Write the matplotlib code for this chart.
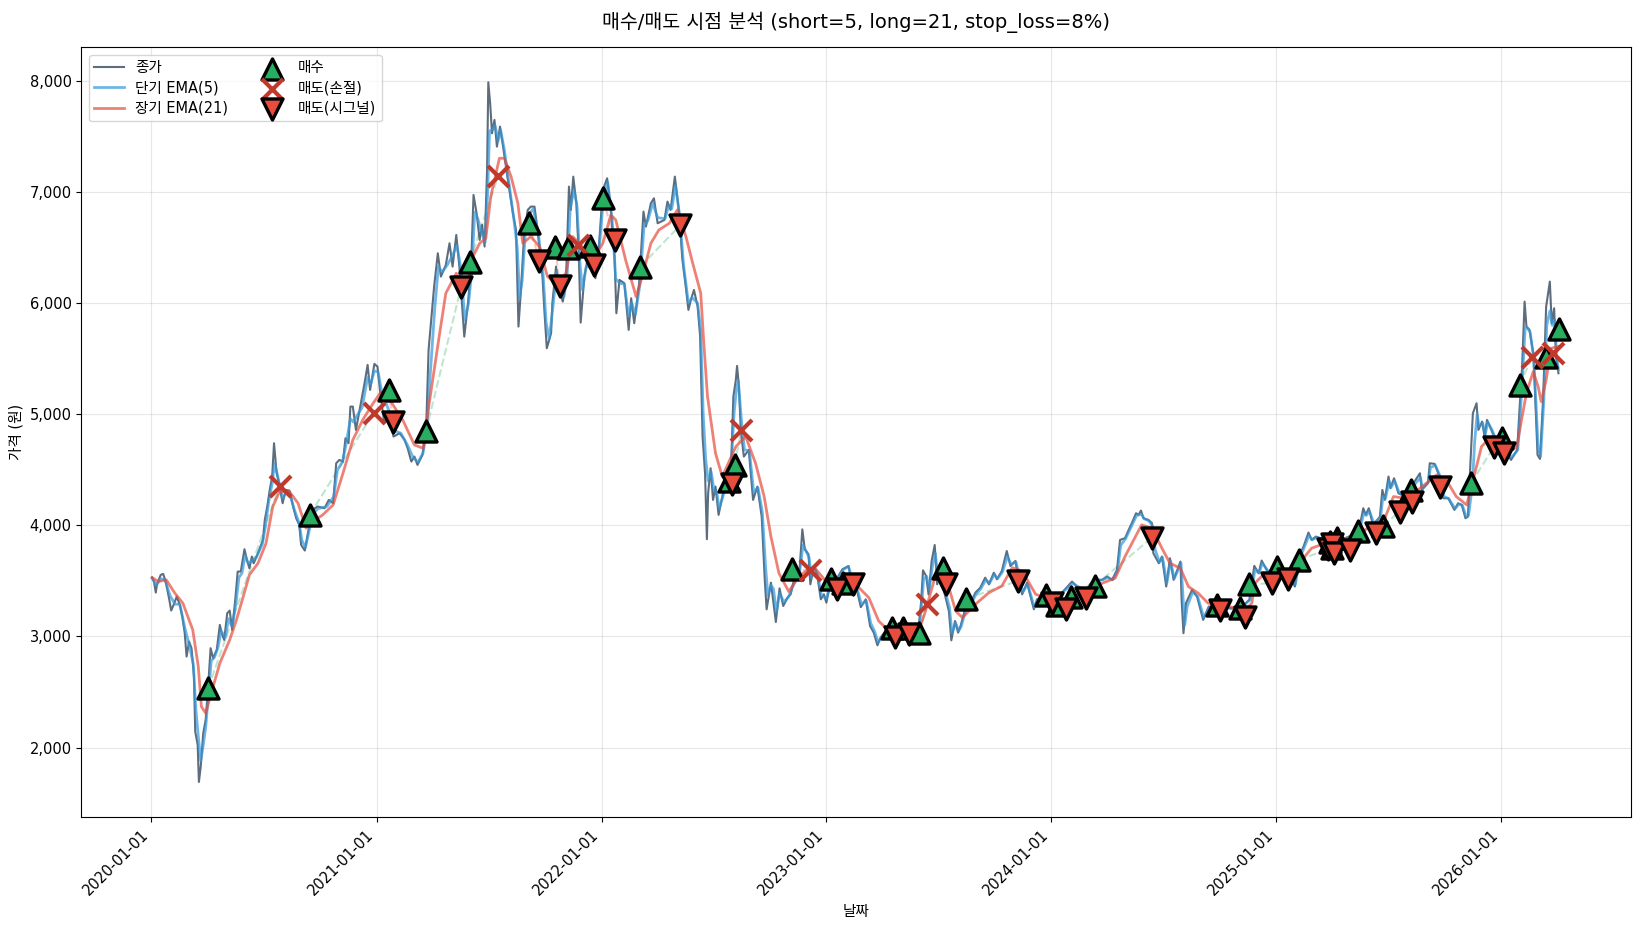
import matplotlib
matplotlib.use('Agg')
import numpy as np
import pandas as pd
import matplotlib.pyplot as plt
import matplotlib.dates as mdates
from matplotlib.ticker import FuncFormatter

plt.rcParams['font.family'] = ['DejaVu Sans', 'Noto Sans CJK KR']
plt.rcParams['axes.unicode_minus'] = False

START = pd.Timestamp('2020-01-01')

# all x values are days since START
close_days = [
    1, 4, 7, 9, 15, 19, 23, 29, 32, 37,
    41, 46, 50, 54, 57, 61, 65, 69, 71, 75,
    77, 80, 84, 88, 92, 96, 100, 106, 111, 114,
    118, 123, 127, 131, 136, 140, 145, 151, 155, 159,
    163, 166, 173, 181, 184, 188, 192, 196, 199, 203,
    207, 213, 218, 224, 230, 235, 240, 243, 249, 254,
    259, 265, 270, 281, 288, 295, 300, 305, 311, 315,
    320, 323, 327, 332, 338, 346, 351, 355, 362, 367,
    371, 378, 385, 393, 403, 411, 416, 422, 427, 432,
    440, 446, 450, 459, 465, 470, 478, 484, 489, 495,
    500, 508, 514, 519, 523, 528, 533, 537, 541, 545,
    547, 550, 553, 557, 561, 566, 571, 578, 587, 592,
    596, 600, 605, 611, 616, 622, 627, 635, 638, 642,
    649, 651, 657, 662, 668, 673, 678, 681, 685, 690,
    694, 697, 703, 708, 715, 721, 727, 733, 740, 746,
    752, 755, 760, 768, 775, 779, 784, 792, 799, 803,
    811, 816, 822, 833, 838, 843, 850, 857, 862, 868,
    872, 876, 881, 887, 891, 895, 899, 902, 904, 908,
    912, 916, 921, 927, 934, 941, 945, 949, 951, 954,
    957, 962, 970, 977, 984, 991, 996, 999, 1006, 1014,
    1020, 1026, 1033, 1038, 1043, 1052, 1057, 1061, 1067, 1070,
    1076, 1081, 1087, 1092, 1096, 1103, 1114, 1122, 1132, 1138,
    1146, 1152, 1160, 1167, 1173, 1179, 1184, 1192, 1203, 1219,
    1236, 1246, 1250, 1253, 1258, 1262, 1267, 1272, 1276, 1281,
    1287, 1295, 1299, 1305, 1310, 1314, 1322, 1330, 1338, 1346,
    1354, 1360, 1368, 1373, 1381, 1389, 1395, 1403, 1408, 1414,
    1422, 1433, 1438, 1452, 1462, 1473, 1495, 1503, 1517, 1530,
    1544, 1552, 1560, 1568, 1573, 1581, 1587, 1592, 1599, 1603,
    1607, 1611, 1619, 1625, 1627, 1636, 1641, 1648, 1654, 1660,
    1671, 1673, 1676, 1680, 1690, 1698, 1708, 1717, 1733, 1754,
    1771, 1783, 1787, 1791, 1798, 1803, 1811, 1819, 1830, 1846,
    1857, 1863, 1871, 1879, 1884, 1891, 1906, 1922, 1938, 1960,
    1968, 1972, 1977, 1984, 1995, 1999, 2003, 2009, 2012, 2018,
    2025, 2036, 2046, 2060, 2063, 2073, 2076, 2084, 2092, 2098,
    2106, 2116, 2122, 2128, 2134, 2138, 2142, 2146, 2152, 2155,
    2161, 2165, 2169, 2176, 2187, 2198, 2208, 2218, 2222, 2226,
    2230, 2233, 2238, 2244, 2247, 2251, 2255, 2260, 2265, 2271,
    2274, 2278, 2281, 2285,
]
close_prices = [
    3530, 3494, 3395, 3473, 3554, 3563, 3494, 3329, 3233, 3299,
    3359, 3284, 3179, 3029, 2819, 2954, 2894, 2639, 2144, 2024,
    1690, 1829, 2129, 2249, 2549, 2894, 2804, 2879, 3104, 3029,
    2969, 3209, 3233, 3059, 3329, 3584, 3584, 3785, 3689, 3614,
    3719, 3659, 3749, 3869, 4049, 4169, 4319, 4439, 4739, 4484,
    4379, 4199, 4319, 4313, 4169, 4064, 4004, 3824, 3773, 3929,
    4079, 4154, 4169, 4154, 4229, 4199, 4559, 4589, 4574, 4784,
    4739, 5069, 5069, 4859, 5039, 5279, 5444, 5219, 5453, 5429,
    5219, 4919, 5009, 4799, 4829, 4769, 4694, 4574, 4619, 4544,
    4634, 4859, 5579, 6149, 6449, 6239, 6344, 6539, 6329, 6614,
    6329, 5699, 5999, 6329, 6974, 6809, 6569, 6704, 6509, 7199,
    7988, 7799, 7529, 7649, 7409, 7589, 7409, 7139, 6809, 6659,
    5789, 6119, 6599, 6839, 6869, 6869, 6659, 6239, 5939, 5594,
    5729, 5999, 6329, 6119, 6014, 6179, 7049, 6839, 7139, 6899,
    6419, 5825, 6239, 6389, 6329, 6224, 6539, 7019, 7124, 6839,
    6419, 5909, 6209, 6179, 5759, 6044, 5819, 6179, 6824, 6689,
    6899, 6944, 6719, 6749, 6914, 6839, 7139, 6809, 6404, 6134,
    5939, 6029, 6119, 5969, 5699, 4799, 4469, 3875, 4289, 4514,
    4229, 4349, 4094, 4259, 4439, 4469, 5159, 5309, 5435, 5249,
    4859, 4619, 4679, 4229, 4349, 4079, 3509, 3244, 3484, 3130,
    3433, 3274, 3349, 3379, 3499, 3559, 3964, 3784, 3739, 3469,
    3634, 3559, 3334, 3379, 3304, 3499, 3529, 3604, 3634, 3469,
    3409, 3264, 3334, 3094, 3034, 2920, 2989, 3049, 3064, 3064,
    3034, 3079, 3319, 3595, 3544, 3379, 3679, 3823, 3469, 3589,
    3409, 3229, 2965, 3139, 3034, 3094, 3259, 3289, 3394, 3439,
    3529, 3469, 3574, 3514, 3589, 3769, 3634, 3679, 3529, 3379,
    3484, 3244, 3334, 3364, 3349, 3359, 3494, 3449, 3419, 3509,
    3509, 3539, 3509, 3599, 3869, 3884, 3959, 4019, 4109, 4094,
    4133, 4064, 4049, 4019, 3749, 3659, 3719, 3449, 3704, 3509,
    3674, 3329, 3029, 3299, 3419, 3359, 3149, 3269, 3269, 3254,
    3269, 3329, 3479, 3635, 3569, 3683, 3599, 3539, 3629, 3569,
    3449, 3719, 3809, 3935, 3869, 3899, 3869, 3899, 3884, 3929,
    4154, 4094, 4154, 3999, 4079, 4319, 4229, 4439, 4334, 4424,
    4289, 4259, 4349, 4469, 4319, 4379, 4559, 4553, 4439, 4244,
    4244, 4139, 4199, 4184, 4064, 4079, 4559, 5009, 5099, 4859,
    4934, 4799, 4949, 4859, 4709, 4679, 4589, 4679, 5069, 5429,
    6014, 5789, 5759, 5549, 5189, 4634, 4598, 5129, 5969, 6194,
    5819, 5954, 5519, 5369,
]

short_days = [
    1, 8, 15, 22, 30, 38, 46, 54, 61, 68,
    72, 76, 80, 84, 88, 92, 97, 102, 108, 113,
    120, 125, 131, 137, 142, 147, 152, 157, 163, 170,
    180, 185, 190, 196, 200, 205, 213, 218, 224, 232,
    240, 244, 250, 256, 262, 270, 285, 296, 302, 310,
    316, 323, 328, 334, 342, 351, 356, 362, 368, 374,
    385, 395, 405, 416, 425, 433, 441, 447, 452, 460,
    466, 472, 480, 488, 496, 502, 509, 515, 520, 525,
    530, 536, 542, 546, 549, 553, 558, 563, 567, 573,
    580, 588, 594, 598, 602, 607, 613, 620, 628, 636,
    641, 646, 651, 658, 664, 670, 675, 680, 686, 691,
    696, 700, 706, 716, 722, 728, 734, 741, 748, 754,
    760, 768, 775, 780, 786, 793, 800, 806, 814, 822,
    834, 840, 845, 851, 858, 864, 872, 878, 887, 892,
    896, 900, 904, 909, 914, 918, 922, 928, 935, 941,
    946, 950, 953, 958, 963, 971, 978, 985, 992, 997,
    1001, 1006, 1010, 1015, 1020, 1027, 1034, 1044, 1052, 1058,
    1062, 1068, 1072, 1077, 1082, 1088, 1096, 1104, 1115, 1123,
    1132, 1139, 1147, 1153, 1161, 1168, 1174, 1180, 1186, 1193,
    1204, 1220, 1237, 1247, 1251, 1254, 1259, 1263, 1268, 1273,
    1277, 1282, 1288, 1296, 1300, 1306, 1311, 1315, 1323, 1331,
    1339, 1347, 1355, 1361, 1369, 1374, 1382, 1390, 1396, 1404,
    1409, 1415, 1423, 1434, 1439, 1453, 1463, 1473, 1496, 1504,
    1518, 1531, 1545, 1553, 1561, 1569, 1574, 1582, 1588, 1593,
    1600, 1608, 1612, 1620, 1626, 1630, 1637, 1642, 1649, 1655,
    1661, 1672, 1675, 1678, 1682, 1691, 1699, 1709, 1718, 1734,
    1755, 1772, 1784, 1788, 1792, 1799, 1804, 1812, 1820, 1831,
    1847, 1858, 1864, 1872, 1880, 1885, 1892, 1907, 1923, 1939,
    1961, 1969, 1973, 1978, 1985, 1996, 2000, 2004, 2010, 2013,
    2019, 2026, 2037, 2047, 2061, 2064, 2074, 2077, 2085, 2093,
    2099, 2107, 2117, 2123, 2129, 2135, 2139, 2145, 2149, 2153,
    2156, 2162, 2166, 2170, 2177, 2188, 2199, 2209, 2219, 2223,
    2227, 2231, 2234, 2239, 2245, 2248, 2252, 2256, 2261, 2266,
    2271, 2275, 2279, 2282, 2285,
]
short_prices = [
    3525, 3460, 3520, 3510, 3370, 3290, 3290, 3080, 2930, 2750,
    2350, 2100, 1880, 2020, 2180, 2450, 2780, 2810, 2900, 3050,
    2990, 3160, 3090, 3290, 3530, 3570, 3730, 3660, 3680, 3710,
    3830, 3990, 4200, 4380, 4560, 4440, 4240, 4290, 4300, 4140,
    4020, 3870, 3800, 3950, 4100, 4150, 4170, 4260, 4500, 4570,
    4730, 4960, 4930, 4990, 5060, 5330, 5270, 5390, 5380, 5200,
    5040, 4850, 4830, 4720, 4610, 4570, 4650, 4850, 5300, 5950,
    6330, 6280, 6340, 6420, 6520, 6330, 5850, 6000, 6280, 6820,
    6760, 6640, 6550, 7000, 7550, 7560, 7600, 7460, 7560, 7380,
    7100, 6780, 6500, 6050, 6200, 6620, 6800, 6850, 6640, 6260,
    5820, 5680, 5920, 6280, 6090, 6060, 6250, 6850, 7020, 6880,
    6350, 6120, 6330, 6320, 6260, 6550, 6950, 7090, 6760, 6220,
    6180, 6170, 5880, 6000, 5900, 6160, 6700, 6740, 6900, 6770,
    6760, 6880, 6850, 7060, 6780, 6350, 6000, 6050, 6000, 5750,
    5000, 4600, 4400, 4480, 4300, 4300, 4150, 4260, 4420, 4480,
    5000, 5230, 5300, 4950, 4680, 4670, 4300, 4340, 4120, 3650,
    3370, 3460, 3430, 3220, 3390, 3310, 3350, 3480, 3550, 3820,
    3780, 3710, 3530, 3620, 3550, 3370, 3340, 3480, 3530, 3600,
    3630, 3490, 3410, 3290, 3320, 3120, 3050, 2950, 2990, 3040,
    3060, 3060, 3040, 3090, 3300, 3520, 3540, 3420, 3620, 3750,
    3530, 3580, 3430, 3260, 3030, 3120, 3050, 3090, 3250, 3290,
    3380, 3430, 3510, 3480, 3560, 3520, 3580, 3720, 3650, 3670,
    3540, 3400, 3470, 3260, 3320, 3360, 3350, 3360, 3480, 3450,
    3420, 3500, 3510, 3530, 3510, 3590, 3820, 3880, 3950, 4010,
    4090, 4100, 4060, 4040, 3990, 3780, 3670, 3710, 3480, 3680,
    3520, 3660, 3380, 3100, 3270, 3400, 3360, 3170, 3260, 3270,
    3250, 3270, 3330, 3450, 3600, 3570, 3660, 3600, 3550, 3620,
    3570, 3470, 3690, 3800, 3910, 3870, 3890, 3870, 3890, 3880,
    3940, 4110, 4090, 4130, 4020, 4070, 4260, 4240, 4400, 4340,
    4400, 4300, 4260, 4340, 4430, 4330, 4390, 4520, 4540, 4440,
    4260, 4240, 4150, 4190, 4180, 4080, 4090, 4350, 4760, 5000,
    4890, 4920, 4810, 4930, 4860, 4710, 4680, 4610, 4680, 5000,
    5380, 5780, 5780, 5740, 5500, 5150, 4700, 4620, 5100, 5800,
    5930, 5800, 5850, 5520, 5400,
]

long_days = [
    1, 11, 24, 38, 51, 59, 67, 76, 81, 88,
    97, 111, 127, 138, 149, 159, 173, 186, 197, 208,
    224, 238, 251, 262, 278, 295, 311, 327, 343, 360,
    373, 387, 408, 427, 441, 451, 468, 478, 495, 511,
    522, 533, 543, 551, 565, 573, 584, 595, 603, 616,
    630, 643, 657, 673, 684, 695, 716, 733, 746, 754,
    770, 787, 797, 811, 824, 841, 854, 868, 878, 892,
    897, 903, 916, 927, 949, 965, 981, 995, 1006, 1019,
    1035, 1051, 1068, 1079, 1095, 1125, 1149, 1165, 1181, 1195,
    1246, 1257, 1273, 1292, 1306, 1317, 1338, 1360, 1381, 1398,
    1414, 1436, 1452, 1484, 1517, 1544, 1565, 1581, 1598, 1608,
    1625, 1641, 1654, 1671, 1684, 1700, 1716, 1749, 1776, 1787,
    1792, 1808, 1830, 1857, 1873, 1884, 1906, 1938, 1971, 2003,
    2017, 2036, 2057, 2087, 2106, 2119, 2136, 2146, 2160, 2176,
    2192, 2217, 2225, 2233, 2244, 2252, 2257, 2265, 2273, 2284,
]
long_prices = [
    3530, 3494, 3509, 3389, 3299, 3179, 3059, 2729, 2369, 2309,
    2489, 2759, 2969, 3149, 3359, 3554, 3659, 3839, 4169, 4304,
    4304, 4199, 3974, 4034, 4094, 4184, 4469, 4769, 4949, 5099,
    5204, 5129, 4949, 4724, 4694, 5099, 5729, 6089, 6269, 6119,
    6419, 6539, 6584, 6959, 7304, 7304, 7139, 6899, 6539, 6599,
    6509, 6239, 6179, 6269, 6599, 6539, 6389, 6539, 6794, 6749,
    6389, 6059, 6239, 6539, 6659, 6719, 6839, 6599, 6380, 6089,
    5639, 5159, 4649, 4439, 4709, 4799, 4559, 4259, 3899, 3569,
    3404, 3539, 3610, 3604, 3499, 3480, 3439, 3349, 3139, 3064,
    3049, 3229, 3544, 3499, 3229, 3169, 3289, 3394, 3454, 3619,
    3589, 3379, 3349, 3299, 3419, 3479, 3524, 3719, 3899, 4004,
    3974, 3794, 3659, 3614, 3449, 3389, 3299, 3269, 3239, 3299,
    3479, 3569, 3569, 3539, 3719, 3794, 3839, 3869, 3959, 4064,
    4259, 4244, 4319, 4454, 4379, 4259, 4184, 4400, 4709, 4799,
    4739, 4694, 4949, 5189, 5384, 5249, 5114, 5309, 5594, 5609,
]

buy_days = [
    92, 257, 385, 446, 517, 613, 656, 676, 712, 733,
    794, 938, 947, 1040, 1103, 1123, 1203, 1221, 1247, 1286,
    1323, 1453, 1470, 1494, 1532, 1730, 1768, 1783, 1828, 1863,
    1914, 1918, 1925, 1960, 2000, 2046, 2143, 2194, 2222, 2264,
    2286,
]
buy_prices = [
    2534, 4094, 5219, 4853, 6374, 6725, 6503, 6500, 6518, 6944,
    6329, 4400, 4544, 3604, 3514, 3480, 3079, 3079, 3034, 3619,
    3340, 3374, 3284, 3359, 3458, 3284, 3254, 3470, 3629, 3689,
    3854, 3800, 3884, 3953, 3995, 4319, 4379, 4784, 5264, 5519,
    5768,
]
stop_days = [208, 361, 563, 693, 958, 1069, 1260, 2242, 2276]
stop_prices = [4355, 5015, 7145, 6524, 4859, 3595, 3289, 5513, 5555]
signal_days = [
    392, 503, 630, 663, 718, 752, 859, 942, 1113, 1140,
    1207, 1231, 1291, 1407, 1462, 1486, 1518, 1625, 1735, 1776,
    1820, 1845, 1911, 1917, 1920, 1946, 1988, 2027, 2047, 2092,
    2180, 2196,
]
signal_prices = [
    4931, 6149, 6380, 6155, 6344, 6569, 6704, 4373, 3424, 3475,
    2995, 3019, 3475, 3499, 3299, 3245, 3344, 3890, 3239, 3179,
    3479, 3515, 3785, 3833, 3755, 3779, 3929, 4124, 4214, 4343,
    4703, 4649,
]

year_ticks = ['2020-01-01', '2021-01-01', '2022-01-01', '2023-01-01',
              '2024-01-01', '2025-01-01', '2026-01-01']


def to_dates(days):
    return START + pd.to_timedelta(days, unit='D')


fig, ax = plt.subplots(figsize=(16.41, 9.30), dpi=100)
fig.subplots_adjust(left=81.3 / 1641, right=1630.5 / 1641,
                    bottom=1 - 817.3 / 930, top=1 - 47.3 / 930)

# trade links: each buy joined to the next sell, green = gain, red = loss
sell_days = np.array(stop_days + signal_days)
sell_prices = np.array(stop_prices + signal_prices)
order = np.argsort(sell_days)
sell_days, sell_prices = sell_days[order], sell_prices[order]
for bd, bp in zip(buy_days, buy_prices):
    later = np.nonzero(sell_days >= bd)[0]
    if len(later) == 0:
        continue
    sd, sp = sell_days[later[0]], sell_prices[later[0]]
    col = '#27ae60' if sp > bp else '#e74c3c'
    ax.plot(to_dates([bd, sd]), [bp, sp], color=col, alpha=0.3, lw=1.5, ls='--', zorder=1)

ax.plot(to_dates(close_days), close_prices, color='#34495e', alpha=0.8, lw=1.5, label='종가', zorder=2)
ax.plot(to_dates(short_days), short_prices, color='#3498db', alpha=0.7, lw=2, label='단기 EMA(5)', zorder=2)
ax.plot(to_dates(long_days), long_prices, color='#e74c3c', alpha=0.7, lw=2, label='장기 EMA(21)', zorder=2)

ax.scatter(to_dates(buy_days), buy_prices, marker='^', s=230, color='#27ae60',
           edgecolors='black', linewidths=2.4, label='매수', zorder=5)
ax.scatter(to_dates(stop_days), stop_prices, marker='x', s=230, color='#c0392b',
           linewidths=3, label='매도(손절)', zorder=5)
ax.scatter(to_dates(signal_days), signal_prices, marker='v', s=230, color='#e74c3c',
           edgecolors='black', linewidths=2.4, label='매도(시그널)', zorder=5)

ax.set_xlim(START + pd.Timedelta(days=-114), START + pd.Timedelta(days=2402))
ax.set_ylim(1372, 8303)
ax.set_xticks(pd.to_datetime(year_ticks))
ax.xaxis.set_major_formatter(mdates.DateFormatter('%Y-%m-%d'))
ax.yaxis.set_major_formatter(FuncFormatter(lambda v, _: f'{int(v):,}'))
ax.tick_params(labelsize=10.5)
plt.setp(ax.get_xticklabels(), rotation=45, ha='right')
ax.grid(True, alpha=0.3)

ax.set_title('매수/매도 시점 분석 (short=5, long=21, stop_loss=8%)', fontsize=14, pad=14)
ax.set_xlabel('날짜', fontsize=10.5)
ax.set_ylabel('가격 (원)', fontsize=10.5)
ax.legend(loc='upper left', ncol=2, fontsize=10.5, labelspacing=0.35)

fig.savefig('out.png', dpi=100)
